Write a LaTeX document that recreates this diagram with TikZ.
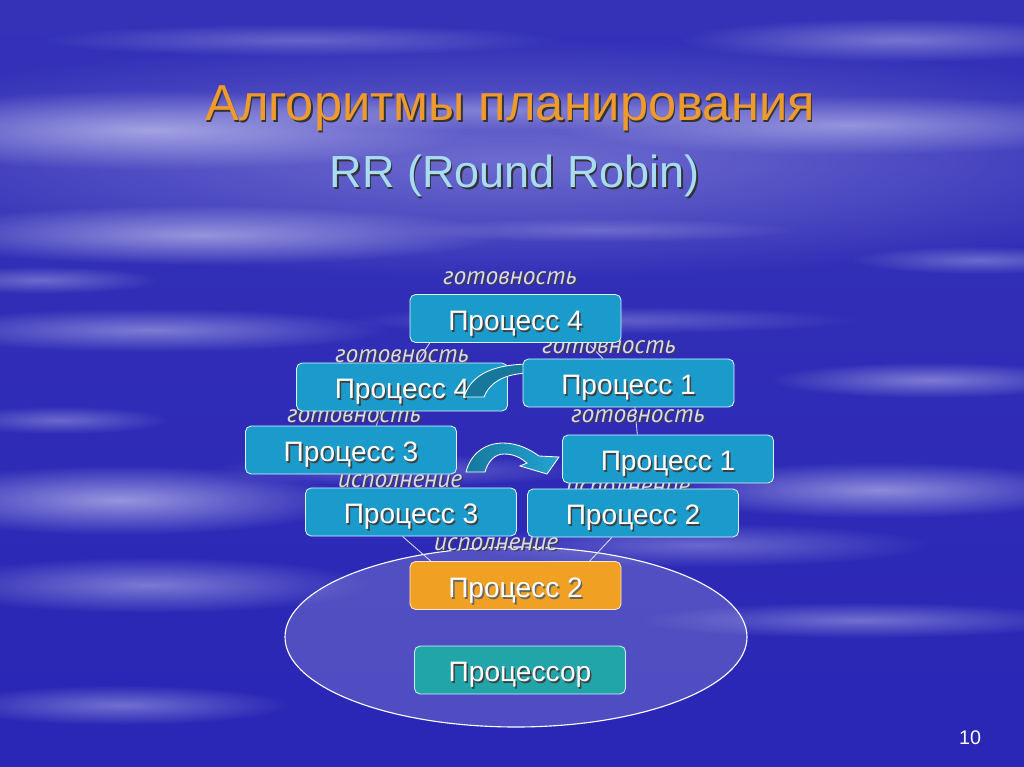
\documentclass[tikz,border=0pt]{standalone}
\usepackage{fontspec}
\setmainfont{Liberation Sans}
\newfontfamily\labfont{PT Sans}
\usetikzlibrary{fadings,calc}
\definecolor{bgblue}{HTML}{2A26B6}
\definecolor{bgtop}{HTML}{3532B8}
\definecolor{streak}{HTML}{DCDCF8}
\definecolor{boxblue}{HTML}{1A9BCB}
\definecolor{boxorange}{HTML}{F0A023}
\definecolor{boxteal}{HTML}{22A5A8}
\definecolor{titleorange}{HTML}{EE9A2E}
\definecolor{subblue}{HTML}{A8DCF2}
\definecolor{labgray}{HTML}{DADAEA}
\definecolor{arrowdark}{HTML}{17789C}
\definecolor{arrowlight}{HTML}{22A4D4}
\definecolor{ellfill}{HTML}{A8A8E0}
\tikzfading[name=softfade, inner color=transparent!0, outer color=transparent!100]
\newcommand\shd[2][black!75]{\rlap{\kern1.1pt\raisebox{-1.1pt}{\textcolor{#1}{#2}}}#2}
\begin{document}
\begin{tikzpicture}[x=0.025cm,y=-0.025cm,
  procbox/.style={rounded corners=4pt, draw=white!85!cyan, line width=0.6pt, fill=boxblue,
    minimum width=5.275cm, minimum height=1.2cm, text=white, inner sep=0pt,
    text height=17pt, text depth=0pt,
    font=\fontsize{20}{20}\selectfont},
  lab/.style={anchor=base, text=labgray, inner sep=0pt, font=\labfont\itshape\fontsize{18}{18}\selectfont},
  conn/.style={draw=white!85!blue, line width=0.6pt},
  streakfill/.style={fill=streak, path fading=softfade}]
\useasboundingbox (0,0) rectangle (1024,767);
% background
\fill[top color=bgtop, bottom color=bgblue] (0,0) rectangle (1024,767);
\foreach \cx/\cy/\rx/\ry/\op in {512/160/750/120/0.35, 150/130/320/40/0.6, 850/125/300/30/0.5,
   500/110/320/20/0.35, 200/235/300/30/0.55, 900/40/220/22/0.4, 150/330/240/22/0.45,
   600/320/260/14/0.3, 930/380/160/18/0.45, 120/500/230/35/0.6, 880/490/220/28/0.55,
   150/585/220/28/0.45, 860/620/220/18/0.4, 120/705/170/20/0.4, 400/470/190/16/0.3,
   700/545/230/22/0.35, 300/40/260/16/0.3, 980/260/130/14/0.35, 60/420/110/14/0.35,
   40/280/120/14/0.35, 600/230/200/12/0.25}
  \fill[streakfill, opacity=\op] (\cx,\cy) ellipse ({\rx} and {\ry});
% titles
\node[anchor=base, text=titleorange, inner sep=0pt, font=\fontsize{36}{36}\selectfont] (title) at (510,121) {\shd[black!80]{Алгоритмы планирования}};
\node[anchor=base, text=subblue, inner sep=0pt, font=\fontsize{32}{32}\selectfont] (subtitle) at (515,188) {\shd[black!80]{RR (Round Robin)}};
% ellipse
\fill[ellfill, opacity=0.3] (516,637) ellipse (231 and 90);
\draw[white, line width=0.8pt] (516,637) ellipse (231 and 90);
% box coordinates
\coordinate (cp4t) at (515.5,318.5);
\coordinate (cp4m) at (402,387);
\coordinate (cp1u) at (628.5,383);
\coordinate (cp3u) at (351,450);
\coordinate (cp1l) at (668,459);
\coordinate (cp3l) at (411,512);
\coordinate (cp2r) at (633,513);
\coordinate (cp2o) at (515.5,585.5);
\coordinate (ccpu) at (520,670);
% invisible shapes for connector anchors
\node[procbox, draw=none, fill=none] (p4t) at (cp4t) {};
\node[procbox, draw=none, fill=none] (p4m) at (cp4m) {};
\node[procbox, draw=none, fill=none] (p1u) at (cp1u) {};
\node[procbox, draw=none, fill=none] (p3u) at (cp3u) {};
\node[procbox, draw=none, fill=none] (p1l) at (cp1l) {};
\node[procbox, draw=none, fill=none] (p3l) at (cp3l) {};
\node[procbox, draw=none, fill=none] (p2r) at (cp2r) {};
\node[procbox, draw=none, fill=none] (p2o) at (cp2o) {};
% connectors
\draw[conn] ($(p4t.south west)!0.095!(p4t.south east)$) -- ($(p4m.north west)!0.57!(p4m.north east)$);
\draw[conn] ($(p4t.south west)!0.84!(p4t.south east)$) -- ($(p1u.north west)!0.38!(p1u.north east)$);
\draw[conn] ($(p4m.north east)!0.08!(p4m.south east)$) .. controls +(8,-3) and +(-8,-2) .. ($(p1u.north west)!0.2!(p1u.south west)$);
\draw[conn] ($(p4m.south west)!0.40!(p4m.south east)$) -- ($(p3u.north west)!0.62!(p3u.north east)$);
\draw[conn] ($(p1u.south west)!0.53!(p1u.south east)$) -- ($(p1l.north west)!0.355!(p1l.north east)$);
\draw[conn] ($(p3l.south west)!0.46!(p3l.south east)$) -- ($(p2o.north west)!0.10!(p2o.north east)$);
\draw[conn] ($(p2r.south west)!0.40!(p2r.south east)$) -- ($(p2o.north west)!0.85!(p2o.north east)$);
% labels
\node[lab] (l1) at (510,284) {\shd{готовность}};
\node[lab] (l2) at (402,362) {\shd{готовность}};
\node[lab] (l3) at (609,353) {\shd{готовность}};
\node[lab] (l4) at (354,422) {\shd{готовность}};
\node[lab] (l5) at (638,422) {\shd{готовность}};
\node[lab] (l6) at (400,487) {\shd{исполнение}};
\node[lab] (l7) at (628,494) {\shd{исполнение}};
\node[lab] (l8) at (496,550) {\shd{исполнение}};
% boxes
\node[procbox] (b4t) at (cp4t) {\shd{Процесс 4}};
\node[procbox] (b3u) at (cp3u) {\shd{Процесс 3}};
\node[procbox] (b4m) at (cp4m) {\shd{Процесс 4}};
% upper curved arrow (partly hidden)
\path[fill=arrowdark, draw=white, line width=0.6pt]
  (464,397) .. controls (471,375) and (492,364) .. (532,364)
  -- (532,373) .. controls (505,373) and (490,382) .. (484,397) -- cycle;
\node[procbox] (b1u) at (cp1u) {\shd{Процесс 1}};
\node[procbox] (b1l) at (cp1l) {\shd{Процесс 1}};
% lower curved arrow
\path[left color=arrowdark, right color=arrowlight, draw=white, line width=0.6pt]
  (466,472) .. controls (471,452) and (487,443) .. (503,443)
  .. controls (518,443) and (531,450) .. (539,456)
  -- (559,457) -- (547,474) -- (520,466) -- (527,463)
  .. controls (521,458) and (514,454) .. (504,454)
  .. controls (495,454) and (488,461) .. (485,472) -- cycle;
\node[procbox] (b3l) at (cp3l) {\shd{Процесс 3}};
\node[procbox] (b2r) at (cp2r) {\shd{Процесс 2}};
\node[procbox, fill=boxorange, draw=white!80!orange] (b2o) at (cp2o) {\shd[black!60]{Процесс 2}};
\node[procbox, fill=boxteal, draw=white!80!cyan] (cpu) at (ccpu) {\shd{Процессор}};
% page number
\node[text=white, inner sep=0pt, font=\fontsize{14}{14}\selectfont] (pnum) at (970,738) {10};
\end{tikzpicture}
\end{document}
